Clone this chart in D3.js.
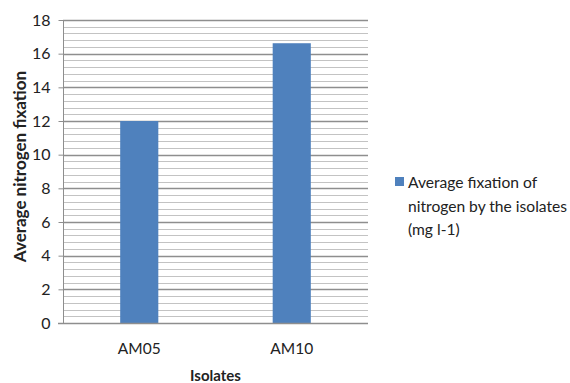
<!DOCTYPE html>
<html>
<head>
<meta charset="utf-8">
<script src="https://cdn.jsdelivr.net/npm/d3@7"></script>
<style>
  body { margin: 0; background: #fff; }
  svg text { font-family: Lato, "Open Sans", sans-serif; fill: #222; }
</style>
</head>
<body>
<div id="chart"></div>
<script>
// data
const isolates = ['AM05', 'AM10'];
const fixation = [12.0, 16.62];
const yTicks = [0, 2, 4, 6, 8, 10, 12, 14, 16, 18];
const legendLines = ['Average fixation of', 'nitrogen by the isolates', '(mg l-1)'];

const width = 570;
const height = 383;
const plot = { left: 63, right: 368, top: 20, bottom: 323 };

const svg = d3.select('#chart')
  .append('svg')
  .attr('width', width)
  .attr('height', height);

const xScale = d3.scaleBand()
  .domain(isolates)
  .range([plot.left, plot.right]);

const yScale = d3.scaleLinear()
  .domain([0, 18])
  .range([plot.bottom, plot.top]);

// minor gridlines every 0.4
const minor = d3.range(0, 18.01, 0.4).filter(v => Math.abs(v / 2 - Math.round(v / 2)) > 0.01);
svg.append('g')
  .selectAll('line')
  .data(minor)
  .join('line')
  .attr('x1', plot.left).attr('x2', plot.right)
  .attr('y1', d => Math.round(yScale(d)) + 0.5)
  .attr('y2', d => Math.round(yScale(d)) + 0.5)
  .attr('stroke', '#c3c3c3')
  .attr('stroke-width', 1);

// major gridlines
svg.append('g')
  .selectAll('line')
  .data(yTicks.filter(d => d > 0))
  .join('line')
  .attr('x1', plot.left).attr('x2', plot.right)
  .attr('y1', d => Math.round(yScale(d)) + 0.5)
  .attr('y2', d => Math.round(yScale(d)) + 0.5)
  .attr('stroke', '#8e8e8e')
  .attr('stroke-width', 1.3);

// bars
const barW = xScale.bandwidth() * 0.25;
svg.append('g')
  .selectAll('rect')
  .data(isolates)
  .join('rect')
  .attr('x', (d) => xScale(d) + (xScale.bandwidth() - barW) / 2)
  .attr('y', (d, i) => yScale(fixation[i]))
  .attr('width', barW)
  .attr('height', (d, i) => yScale(0) - yScale(fixation[i]))
  .attr('fill', '#4f81bd');

// y axis
const yAxis = svg.append('g')
  .attr('transform', `translate(${plot.left + 0.5},0)`)
  .call(d3.axisLeft(yScale).tickValues(yTicks).tickSize(5).tickPadding(8));
yAxis.select('.domain').attr('stroke', '#8e8e8e').attr('d', `M0,${plot.top}V${plot.bottom}`);
yAxis.selectAll('.tick line').attr('stroke', '#8e8e8e');
yAxis.selectAll('.tick text')
  .style('font-size', '16px')
  .attr('fill', '#222');

// x axis line
svg.append('line')
  .attr('x1', plot.left - 5).attr('x2', plot.right)
  .attr('y1', plot.bottom + 0.5).attr('y2', plot.bottom + 0.5)
  .attr('stroke', '#8e8e8e')
  .attr('stroke-width', 1.3);

svg.append('g')
  .selectAll('text')
  .data(isolates)
  .join('text')
  .attr('x', (d) => xScale(d) + xScale.bandwidth() / 2)
  .attr('y', 354)
  .attr('text-anchor', 'middle')
  .style('font-size', '15.5px')
  .text(d => d);

// axis titles
svg.append('text')
  .attr('x', (plot.left + plot.right) / 2)
  .attr('y', 381)
  .attr('text-anchor', 'middle')
  .style('font-size', '15px')
  .style('font-weight', 'bold')
  .text('Isolates');

svg.append('text')
  .attr('transform', `translate(26,${(plot.top + plot.bottom) / 2 - 5}) rotate(-90)`)
  .attr('text-anchor', 'middle')
  .style('font-size', '17px')
  .style('font-weight', 'bold')
  .text('Average nitrogen fixation');

// legend
const legend = svg.append('g').attr('transform', 'translate(395,177)');
legend.append('rect')
  .attr('width', 9).attr('height', 9)
  .attr('fill', '#4f81bd');
legend.selectAll('text')
  .data(legendLines)
  .join('text')
  .attr('x', 13)
  .attr('y', (d, i) => 11 + i * 23.5)
  .style('font-size', '15.6px')
  .text(d => d);
</script>
</body>
</html>
